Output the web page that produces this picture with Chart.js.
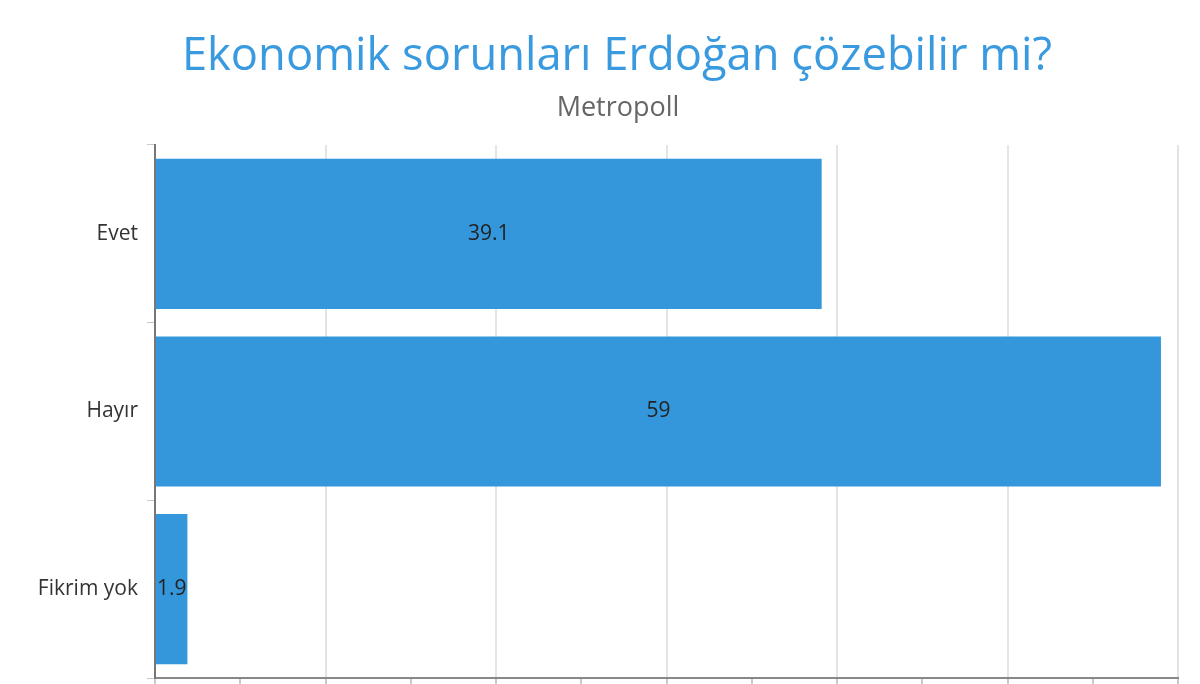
<!DOCTYPE html>
<html lang="tr">
<head>
    <meta charset="UTF-8">
    <title>Ekonomik sorunları Erdoğan çözebilir mi?</title>
    <script src="https://cdn.jsdelivr.net/npm/chart.js"></script>
    <style>
        html, body {
            margin: 0;
            padding: 0;
            background: #fff;
            overflow: hidden;
        }
        #wrap {
            width: 1200px;
            height: 684px;
        }
    </style>
</head>
<body>
    <div id="wrap">
        <canvas id="pollChart" width="1200" height="684"></canvas>
    </div>

    <script>
        // Data
        const categories = ["Evet", "Hayır", "Fikrim yok"];
        const values = [39.1, 59, 1.9];
        const titleText = "Ekonomik sorunları Erdoğan çözebilir mi?";
        const subtitleText = "Metropoll";

        // heading is a bit right of the canvas centre in the original, so draw it by hand
        const heading = {
            id: "heading",
            afterDraw(chart) {
                const ctx = chart.ctx;
                ctx.save();
                ctx.textAlign = "center";
                ctx.textBaseline = "middle";
                ctx.fillStyle = "#3a9ae0";
                ctx.font = "45.3px 'Open Sans'";
                ctx.fillText(titleText, 617, 57);
                ctx.fillStyle = "#666";
                ctx.font = "27px 'Open Sans'";
                ctx.fillText(subtitleText, 618, 108);
                ctx.restore();
            }
        };

        // value labels inside the bars
        const valueLabels = {
            id: "valueLabels",
            afterDatasetsDraw(chart) {
                const ctx = chart.ctx;
                const meta = chart.getDatasetMeta(0);
                ctx.save();
                ctx.font = "21px 'Open Sans'";
                ctx.fillStyle = "#222";
                ctx.textAlign = "center";
                ctx.textBaseline = "middle";
                meta.data.forEach((bar, i) => {
                    const x = (bar.x + bar.base) / 2;
                    ctx.fillText(String(values[i]), x, bar.y);
                });
                ctx.restore();
            }
        };

        const ctx = document.getElementById("pollChart").getContext("2d");
        new Chart(ctx, {
            type: "bar",
            data: {
                labels: categories,
                datasets: [{
                    data: values,
                    backgroundColor: "#3597db",
                    borderWidth: 0,
                    barPercentage: 0.845,
                    categoryPercentage: 1
                }]
            },
            options: {
                indexAxis: "y",
                responsive: false,
                animation: false,
                layout: {
                    padding: { left: 0, right: 22, top: 145, bottom: 0 }
                },
                plugins: {
                    legend: { display: false },
                    tooltip: { enabled: false }
                },
                scales: {
                    x: {
                        min: 0,
                        max: 60,
                        ticks: { stepSize: 5, display: false },
                        grid: {
                            color: c => (c.tick && c.tick.value % 10 === 0) ? "#e4e4e4" : "rgba(0,0,0,0)",
                            tickColor: "#c8c8c8",
                            tickLength: 8,
                            lineWidth: 2
                        },
                        border: { color: "#888", width: 2 },
                        afterFit: s => { s.height = 6; }
                    },
                    y: {
                        ticks: {
                            color: "#333",
                            font: { family: "'Open Sans'", size: 21 },
                            padding: 9
                        },
                        grid: {
                            offset: true,
                            drawOnChartArea: false,
                            tickLength: 8,
                            tickColor: "#c8c8c8"
                        },
                        border: { color: "#777", width: 2 },
                        afterFit: s => {
                            s.width = 155;
                            s.paddingTop = 0;
                            s.paddingBottom = 0;
                        }
                    }
                }
            },
            plugins: [valueLabels, heading]
        });
    </script>
</body>
</html>
